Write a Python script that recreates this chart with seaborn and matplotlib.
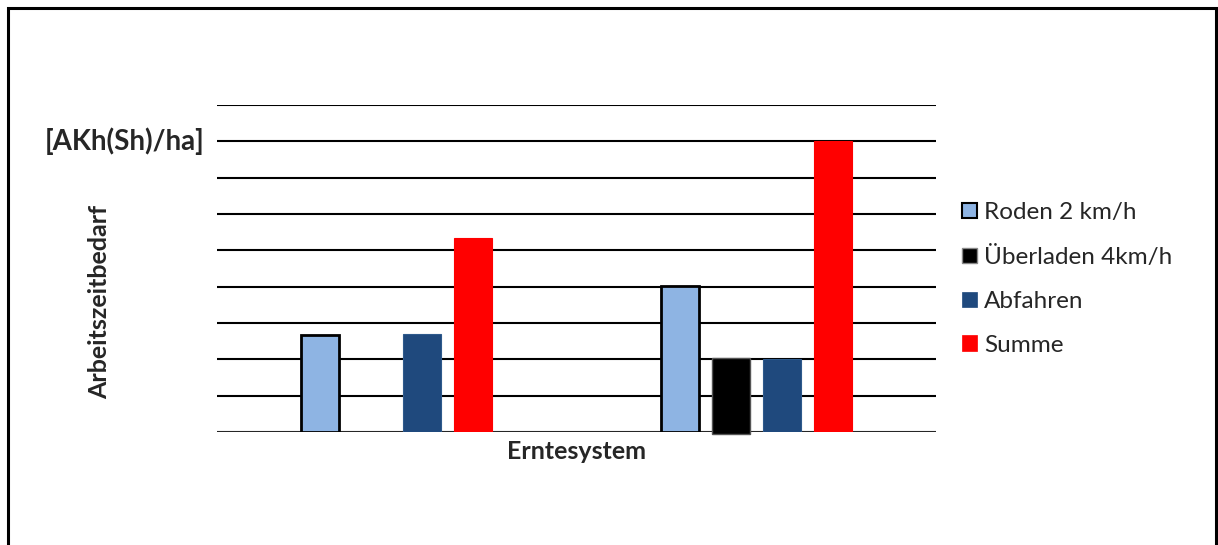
import matplotlib
matplotlib.use("Agg")
import matplotlib.pyplot as plt
from matplotlib.patches import Rectangle, Patch
import seaborn as sns
import pandas as pd

# Harvest systems compared (not labelled on the axis)
systems = ["System 1", "System 2"]

# Working time per operation, one list per operation
roden = [2.68, 4.01]
ueberladen = [0.0, 2.04]
abfahren = [2.70, 2.01]
summe = [5.35, 8.01]

series_names = ["Roden 2 km/h", "Überladen 4km/h", "Abfahren", "Summe"]
series_values = [roden, ueberladen, abfahren, summe]
colors = ["#8EB4E3", "#000000", "#1F497D", "#FF0000"]
edges = ["#000000", "#000000", "#2E5A8C", "#FF0000"]

rows = []
for name, vals in zip(series_names, series_values):
    for sys_name, v in zip(systems, vals):
        rows.append({"System": sys_name, "Arbeitsgang": name, "Wert": v})
df = pd.DataFrame(rows)

sns.set_theme(style="white")
plt.rcParams["font.family"] = ["Lato", "DejaVu Sans"]

fig = plt.figure(figsize=(12.18, 5.45), dpi=100)
ax = fig.add_axes([217 / 1218, 1 - 432 / 545, (936 - 217) / 1218, (432 - 105) / 545])

sns.barplot(
    data=df, x="System", y="Wert", hue="Arbeitsgang",
    order=systems, hue_order=series_names,
    palette=dict(zip(series_names, colors)), saturation=1,
    width=0.567, gap=0.25, ax=ax, legend=False,
)

for cont, ec, name in zip(ax.containers, edges, series_names):
    for bar in cont:
        bar.set_edgecolor(ec)
        if name == "Roden 2 km/h":
            bar.set_linewidth(2.0)
        elif name == "Überladen 4km/h":
            bar.set_linewidth(1.0)
            bar.set_edgecolor("#555555")
            if bar.get_height() > 0:
                # black bar reaches slightly below the baseline
                bar.set_y(-0.06)
                bar.set_height(bar.get_height() + 0.06)
                bar.set_clip_on(False)
            else:
                bar.set_visible(False)
        else:
            bar.set_linewidth(0.8)
        bar.set_zorder(3)

ax.set_ylim(0, 9)
ax.set_yticks(range(0, 10))
ax.set_yticklabels([])
ax.set_xticks([])
ax.tick_params(length=0)
ax.grid(axis="y", color="black", linewidth=1.5, zorder=0)
ax.set_axisbelow(True)
for s in ax.spines.values():
    s.set_visible(False)
ax.axhline(0, color="#333333", linewidth=1.8, zorder=2)

ax.set_xlabel("Erntesystem", fontsize=18, fontweight="bold", labelpad=6)
ax.set_ylabel("")

fig.text(45 / 1218, 1 - 141 / 545, "[AKh(Sh)/ha]", fontsize=20,
         fontweight="bold", ha="left", va="center")
fig.text(100 / 1218, 1 - 302 / 545, "Arbeitszeitbedarf", fontsize=18,
         fontweight="bold", rotation=90, ha="center", va="center")

handles = []
for name, c in zip(series_names, colors):
    if name == "Roden 2 km/h":
        h = Patch(facecolor=c, edgecolor="black", linewidth=1.5, label=name)
    elif name == "Überladen 4km/h":
        h = Patch(facecolor=c, edgecolor="#888888", linewidth=1.0, label=name)
    else:
        h = Patch(facecolor=c, edgecolor=c, linewidth=0.5, label=name)
    handles.append(h)
fig.legend(handles=handles, loc="center left",
           bbox_to_anchor=(962 / 1218, 1 - 279 / 545), frameon=False,
           fontsize=17.5, handlelength=0.6, handleheight=0.6,
           handletextpad=0.3, labelspacing=0.94, borderaxespad=0,
           borderpad=0)

# outer frame around the chart area
fig.patches.append(Rectangle((8 / 1218, -0.1), (1216 - 8) / 1218, 1.1 - 8 / 545,
                             transform=fig.transFigure, fill=False,
                             edgecolor="black", linewidth=2.2))

fig.savefig("out.png", dpi=100, facecolor="white")
